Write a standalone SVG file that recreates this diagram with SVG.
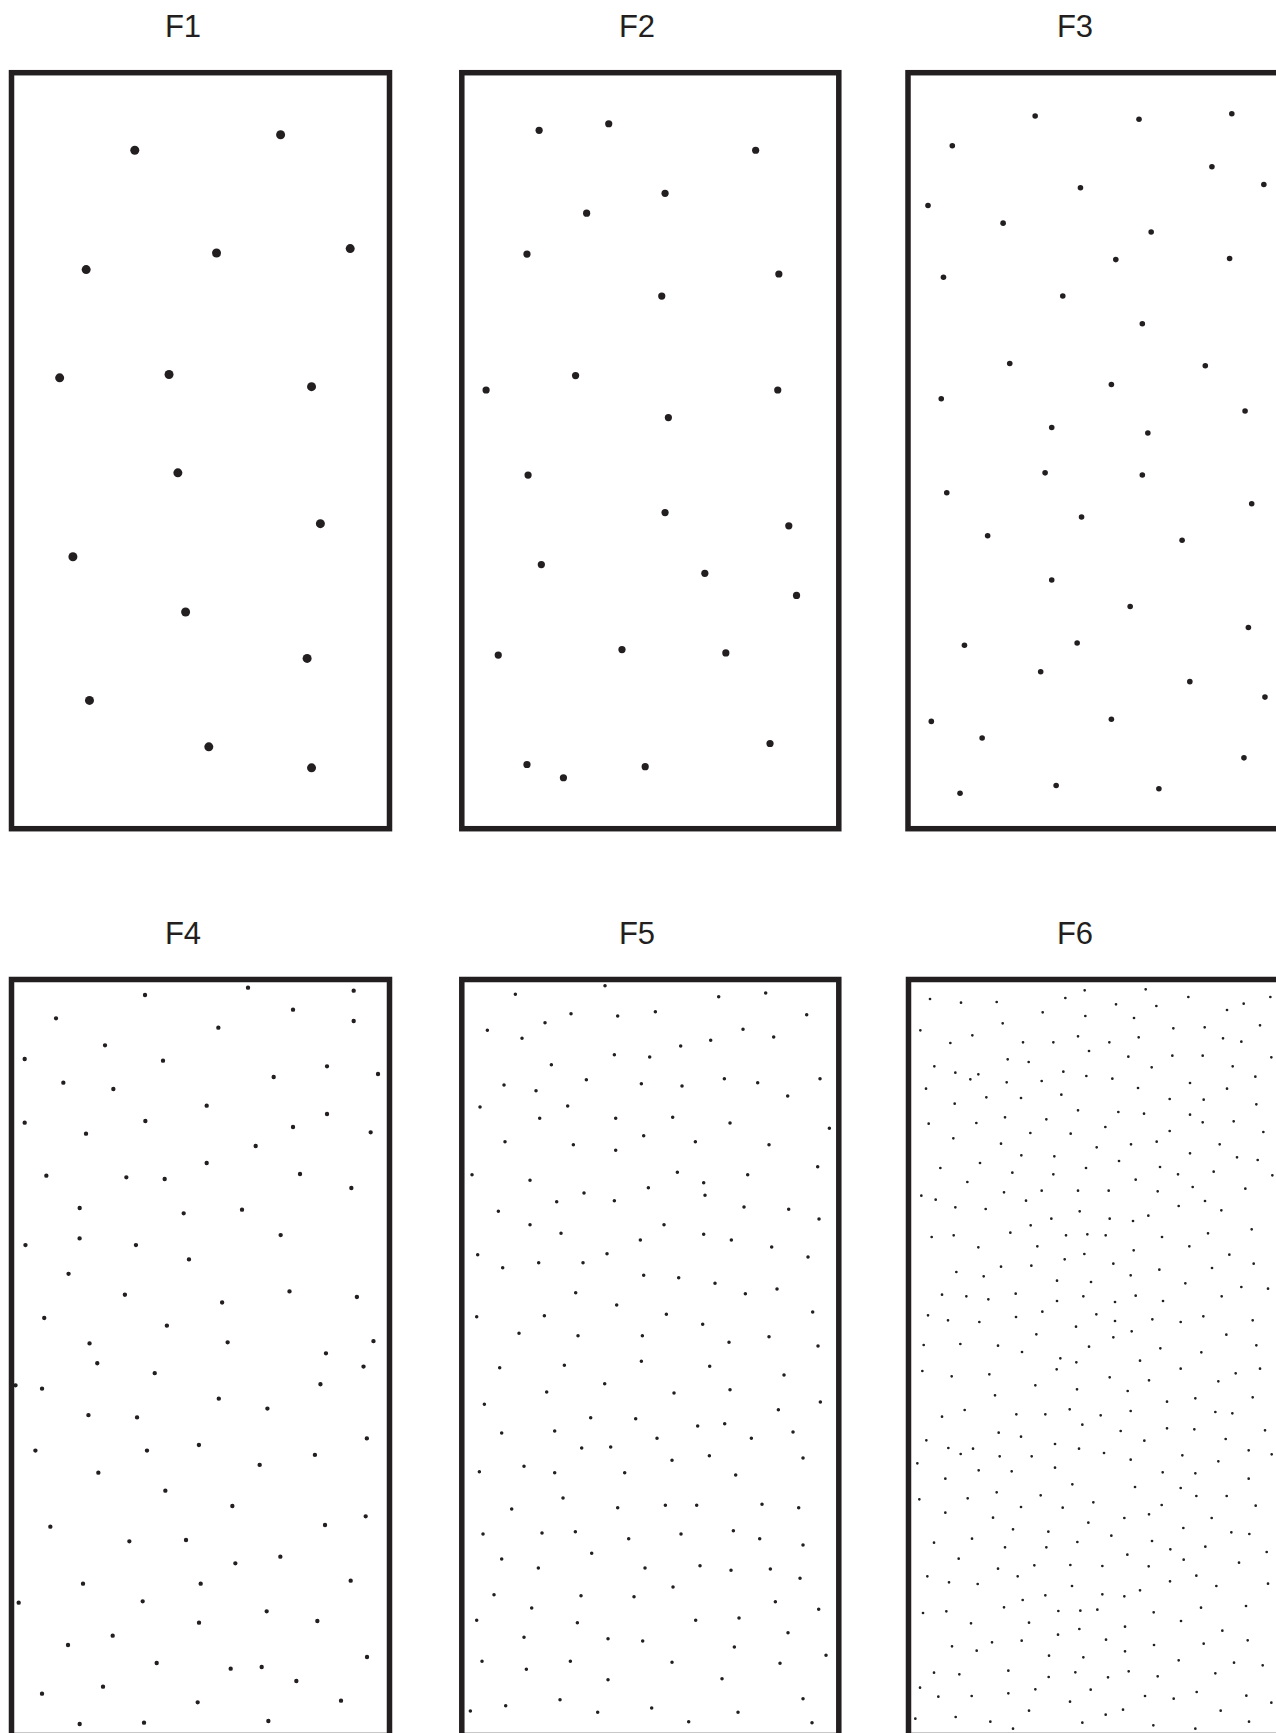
<svg xmlns="http://www.w3.org/2000/svg" width="1276" height="1733" viewBox="0 0 1276 1733">
<style>
.frame{fill:none;stroke:#231f20;stroke-width:5.5}
.lbl{font-family:"Liberation Sans",Arial,sans-serif;font-size:31px;fill:#231f20;text-anchor:middle}
.d{fill:#231f20}
.pd{fill:none;stroke:#231f20;stroke-linecap:round}
</style>
<rect width="1276" height="1733" fill="#ffffff"/>

<g id="F1">
<text class="lbl" x="183" y="37">F1</text>
<rect class="frame" x="11.5" y="72.7" width="378" height="756"/>
<g class="d" transform="scale(1.10476)">
<circle cx="122" cy="136" r="4.07"/><circle cx="254" cy="122" r="4.07"/><circle cx="78" cy="244" r="4.07"/><circle cx="196" cy="229" r="4.07"/><circle cx="317" cy="225" r="4.07"/><circle cx="54" cy="342" r="4.07"/><circle cx="153" cy="339" r="4.07"/><circle cx="282" cy="350" r="4.07"/><circle cx="161" cy="428" r="4.07"/><circle cx="290" cy="474" r="4.07"/><circle cx="66" cy="504" r="4.07"/><circle cx="168" cy="554" r="4.07"/><circle cx="278" cy="596" r="4.07"/><circle cx="81" cy="634" r="4.07"/><circle cx="189" cy="676" r="4.07"/><circle cx="282" cy="695" r="4.07"/>
</g>
</g>

<g id="F2">
<text class="lbl" x="637" y="37">F2</text>
<rect class="frame" x="461.8" y="72.7" width="377" height="756"/>
<g class="d" transform="scale(1.10476)">
<circle cx="488" cy="118" r="3.26"/><circle cx="551" cy="112" r="3.26"/><circle cx="684" cy="136" r="3.26"/><circle cx="602" cy="175" r="3.26"/><circle cx="531" cy="193" r="3.26"/><circle cx="477" cy="230" r="3.26"/><circle cx="705" cy="248" r="3.26"/><circle cx="599" cy="268" r="3.26"/><circle cx="440" cy="353" r="3.26"/><circle cx="521" cy="340" r="3.26"/><circle cx="704" cy="353" r="3.26"/><circle cx="605" cy="378" r="3.26"/><circle cx="478" cy="430" r="3.26"/><circle cx="602" cy="464" r="3.26"/><circle cx="714" cy="476" r="3.26"/><circle cx="490" cy="511" r="3.26"/><circle cx="638" cy="519" r="3.26"/><circle cx="721" cy="539" r="3.26"/><circle cx="451" cy="593" r="3.26"/><circle cx="563" cy="588" r="3.26"/><circle cx="657" cy="591" r="3.26"/><circle cx="477" cy="692" r="3.26"/><circle cx="510" cy="704" r="3.26"/><circle cx="584" cy="694" r="3.26"/><circle cx="697" cy="673" r="3.26"/>
</g>
</g>

<g id="F3">
<text class="lbl" x="1075" y="37">F3</text>
<rect class="frame" x="908" y="72.7" width="378" height="756"/>
<g class="d" transform="scale(1.10476)">
<circle cx="862" cy="132" r="2.53"/><circle cx="937" cy="105" r="2.53"/><circle cx="1031" cy="108" r="2.53"/><circle cx="1115" cy="103" r="2.53"/><circle cx="1097" cy="151" r="2.53"/><circle cx="1144" cy="167" r="2.53"/><circle cx="978" cy="170" r="2.53"/><circle cx="840" cy="186" r="2.53"/><circle cx="908" cy="202" r="2.53"/><circle cx="1042" cy="210" r="2.53"/><circle cx="1010" cy="235" r="2.53"/><circle cx="1113" cy="234" r="2.53"/><circle cx="854" cy="251" r="2.53"/><circle cx="962" cy="268" r="2.53"/><circle cx="1034" cy="293" r="2.53"/><circle cx="914" cy="329" r="2.53"/><circle cx="1091" cy="331" r="2.53"/><circle cx="1006" cy="348" r="2.53"/><circle cx="852" cy="361" r="2.53"/><circle cx="1127" cy="372" r="2.53"/><circle cx="952" cy="387" r="2.53"/><circle cx="1039" cy="392" r="2.53"/><circle cx="946" cy="428" r="2.53"/><circle cx="1034" cy="430" r="2.53"/><circle cx="857" cy="446" r="2.53"/><circle cx="1133" cy="456" r="2.53"/><circle cx="979" cy="468" r="2.53"/><circle cx="894" cy="485" r="2.53"/><circle cx="1070" cy="489" r="2.53"/><circle cx="952" cy="525" r="2.53"/><circle cx="1023" cy="549" r="2.53"/><circle cx="1130" cy="568" r="2.53"/><circle cx="873" cy="584" r="2.53"/><circle cx="975" cy="582" r="2.53"/><circle cx="942" cy="608" r="2.53"/><circle cx="1077" cy="617" r="2.53"/><circle cx="1145" cy="631" r="2.53"/><circle cx="843" cy="653" r="2.53"/><circle cx="1006" cy="651" r="2.53"/><circle cx="889" cy="668" r="2.53"/><circle cx="1126" cy="686" r="2.53"/><circle cx="956" cy="711" r="2.53"/><circle cx="1049" cy="714" r="2.53"/><circle cx="869" cy="718" r="2.53"/>
</g>
</g>

<g id="F4">
<text class="lbl" x="183" y="944">F4</text>
<rect class="frame" x="11.5" y="979.5" width="378" height="756"/>
<path class="pd" stroke-width="13" transform="translate(0 970) scale(0.333333)" d="M435 75h.1M744 53h.1M1061 62h.1M168 145h.1M879 119h.1M1061 153h.1M655 173h.1M315 226h.1M74 267h.1M489 272h.1M981 289h.1M1134 312h.1M190 338h.1M340 357h.1M821 321h.1M620 407h.1M981 432h.1M74 458h.1M436 453h.1M258 491h.1M879 471h.1M1112 487h.1M767 528h.1M620 579h.1M139 617h.1M379 622h.1M494 627h.1M900 612h.1M1054 654h.1M239 714h.1M551 730h.1M726 719h.1"/>
<path class="pd" stroke-width="3.9" transform="scale(1.10476)" d="M23 1127h.1M123 1127h.1M72 1121h.1M254 1118h.1M171 1140h.1M62 1153h.1M113 1172h.1M201 1179h.1M262 1169h.1M323 1174h.1M40 1193h.1M151 1200h.1M81 1216h.1M206 1215h.1M338 1214h.1M88 1234h.1M295 1225h.1M329 1237h.1M140 1243h.1M14 1254h.1M38 1257h.1M198 1266h.1M290 1253h.1M80 1281h.1M124 1283h.1M242 1275h.1M332 1302h.1M180 1308h.1M32 1313h.1M133 1313h.1M285 1317h.1M235 1326h.1"/>
<path class="pd" stroke-width="13" transform="translate(0 1470) scale(0.333333)" d="M295 8h.1M496 62h.1M697 108h.1M1097 139h.1M975 165h.1M151 170h.1M388 214h.1M558 210h.1M841 260h.1M706 280h.1M249 341h.1M602 341h.1M1052 332h.1M56 398h.1M428 394h.1M800 424h.1M952 453h.1M597 458h.1M338 497h.1M204 525h.1M1101 561h.1M470 579h.1M692 596h.1M785 591h.1M889 633h.1M126 671h.1M309 650h.1M593 697h.1M1023 692h.1M239 762h.1M432 758h.1M805 753h.1"/>
</g>

<g id="F5">
<text class="lbl" x="637" y="944">F5</text>
<rect class="frame" x="461.8" y="979.5" width="377" height="756"/>
<path class="pd" stroke-width="10.5" transform="translate(455 970) scale(0.333333)" d="M181 73h.1M450 47h.1M791 80h.1M932 69h.1M348 131h.1M488 138h.1M601 125h.1M1055 134h.1M270 158h.1M97 181h.1M201 205h.1M864 178h.1M956 201h.1M767 211h.1M677 228h.1M478 254h.1M584 261h.1M289 284h.1M147 345h.1M243 362h.1M394 329h.1M559 341h.1M681 348h.1M808 326h.1M908 338h.1M1095 326h.1M998 378h.1M75 411h.1M338 408h.1M254 445h.1M482 445h.1M653 442h.1M825 459h.1M1123 475h.1M150 515h.1M355 524h.1M482 541h.1M566 497h.1M721 515h.1M942 524h.1M51 614h.1M225 631h.1M667 607h.1M746 638h.1M878 614h.1M1088 590h.1M580 653h.1M387 669h.1M305 695h.1M478 692h.1M750 676h.1M867 711h.1M1001 718h.1M130 724h.1M1092 747h.1"/>
<path class="pd" stroke-width="10.5" transform="translate(455 1220) scale(0.333333)" d="M225 14h.1M627 14h.1M318 40h.1M556 60h.1M746 43h.1M829 60h.1M950 81h.1M1059 111h.1M68 104h.1M143 143h.1M251 128h.1M384 128h.1M456 101h.1M566 166h.1M671 173h.1M780 190h.1M871 221h.1M966 207h.1M362 218h.1M485 255h.1M65 290h.1M268 287h.1M634 283h.1M743 313h.1M1073 276h.1M192 340h.1M369 347h.1M562 347h.1M822 367h.1M942 350h.1M1089 378h.1M134 443h.1M328 436h.1M559 424h.1M764 439h.1M987 465h.1M449 491h.1M275 516h.1M657 519h.1M825 509h.1M88 553h.1M970 569h.1M1096 546h.1M407 593h.1M542 596h.1M728 618h.1M809 611h.1M140 639h.1M299 633h.1M1014 636h.1M606 655h.1M889 655h.1M380 684h.1M467 681h.1M651 721h.1M763 707h.1M1044 714h.1M207 739h.1"/>
<path class="pd" stroke-width="10.5" transform="translate(455 1470) scale(0.333333)" d="M73 5h.1M299 8h.1M509 8h.1M842 15h.1M324 84h.1M170 117h.1M488 113h.1M631 106h.1M725 106h.1M921 103h.1M1031 113h.1M84 192h.1M261 189h.1M361 185h.1M521 206h.1M678 192h.1M835 182h.1M914 206h.1M1044 225h.1M410 250h.1M140 267h.1M250 294h.1M570 294h.1M735 287h.1M828 301h.1M946 297h.1M1035 325h.1M654 351h.1M117 374h.1M378 377h.1M537 380h.1M230 414h.1M961 395h.1M1091 418h.1M65 451h.1M367 458h.1M722 451h.1M852 444h.1M999 488h.1M207 502h.1M459 506h.1M563 513h.1M838 531h.1M1113 556h.1M81 574h.1M346 574h.1M651 577h.1M975 580h.1M214 598h.1M459 629h.1M801 626h.1M315 689h.1M1044 686h.1M46 723h.1M152 707h.1M428 727h.1M590 714h.1M849 727h.1M701 755h.1M1071 758h.1"/>
</g>

<g id="F6">
<text class="lbl" x="1075" y="944">F6</text>
<rect class="frame" x="908.5" y="979.5" width="378" height="756"/>
<path class="pd" stroke-width="8" transform="translate(906 970) scale(0.333333)" d="M72 87h.1M165 98h.1M272 96h.1M410 127h.1M478 84h.1M536 61h.1M630 103h.1M719 58h.1M751 108h.1M847 81h.1M963 120h.1M1013 101h.1M1093 81h.1M43 181h.1M290 160h.1M538 138h.1M684 144h.1M802 175h.1M896 172h.1M1062 166h.1M133 219h.1M199 196h.1M351 217h.1M442 217h.1M516 199h.1M610 217h.1M698 202h.1M951 205h.1M1006 215h.1M305 268h.1M368 276h.1M549 243h.1M667 260h.1M799 257h.1M890 257h.1M1096 262h.1M980 289h.1M85 289h.1M148 308h.1M193 328h.1M217 313h.1M302 337h.1M407 333h.1M472 305h.1M541 318h.1M619 326h.1M737 292h.1M852 339h.1M1048 320h.1M60 356h.1M241 382h.1M345 384h.1M466 374h.1M696 354h.1M791 387h.1M893 389h.1M963 356h.1M146 401h.1M516 421h.1M637 426h.1M714 431h.1M852 434h.1M1051 403h.1M68 461h.1M211 459h.1M297 442h.1M421 448h.1M598 471h.1M890 457h.1M983 454h.1M142 505h.1M373 489h.1M494 491h.1M791 483h.1M1072 486h.1M285 521h.1M572 532h.1M675 523h.1M752 515h.1M941 523h.1M346 556h.1M445 559h.1M852 550h.1M993 562h.1M1055 570h.1M103 594h.1M222 579h.1M540 594h.1M639 573h.1M762 591h.1M319 608h.1M442 613h.1M816 613h.1M923 605h.1M1099 616h.1M184 636h.1M689 629h.1M860 651h.1M1018 656h.1M46 677h.1M89 689h.1M294 667h.1M407 662h.1M516 662h.1M608 662h.1M755 664h.1M897 693h.1M148 712h.1M239 717h.1M360 692h.1M521 724h.1M818 708h.1M946 721h.1M436 746h.1M611 746h.1M727 737h.1"/>
<path class="pd" stroke-width="8" transform="translate(906 1220) scale(0.333333)" d="M374 16h.1M681 3h.1M1037 28h.1M77 51h.1M143 46h.1M313 38h.1M480 46h.1M544 43h.1M599 46h.1M768 51h.1M906 40h.1M217 82h.1M394 79h.1M535 102h.1M683 91h.1M850 79h.1M970 104h.1M476 118h.1M285 140h.1M376 137h.1M622 131h.1M760 149h.1M918 144h.1M1043 131h.1M151 156h.1M233 169h.1M453 182h.1M555 186h.1M674 166h.1M838 190h.1M108 224h.1M181 229h.1M247 238h.1M329 221h.1M453 243h.1M532 229h.1M627 246h.1M689 227h.1M771 243h.1M947 229h.1M1006 201h.1M1086 206h.1M66 286h.1M126 301h.1M220 306h.1M330 291h.1M409 275h.1M571 283h.1M627 303h.1M739 298h.1M824 306h.1M892 289h.1M1040 301h.1M510 320h.1M391 343h.1M622 352h.1M677 334h.1M961 344h.1M53 375h.1M163 372h.1M276 377h.1M348 396h.1M549 380h.1M763 385h.1M886 397h.1M1051 376h.1M463 415h.1M511 427h.1M702 422h.1M49 453h.1M137 469h.1M250 463h.1M452 448h.1M611 472h.1M729 481h.1M824 446h.1M937 484h.1M989 460h.1M1062 446h.1M388 496h.1M513 508h.1M665 513h.1M267 526h.1M783 545h.1M868 535h.1M1040 532h.1M108 590h.1M176 570h.1M331 583h.1M418 583h.1M491 568h.1M584 586h.1M674 573h.1M928 576h.1M979 580h.1M529 614h.1M278 638h.1M345 650h.1M644 633h.1M783 625h.1M865 628h.1M1077 631h.1M61 661h.1M127 684h.1M164 702h.1M201 686h.1M281 709h.1M377 709h.1M447 672h.1M519 686h.1M594 699h.1M715 662h.1M829 706h.1M959 657h.1M1028 691h.1M1097 703h.1M34 730h.1M218 751h.1M317 754h.1M447 743h.1M674 719h.1M937 724h.1M118 776h.1M770 757h.1M868 760h.1M1028 776h.1"/>
<path class="pd" stroke-width="8" transform="translate(880 1480) scale(0.333333)" d="M577 13h.1M765 21h.1M902 24h.1M949 48h.1M1040 48h.1M118 58h.1M263 55h.1M350 37h.1M482 46h.1M640 67h.1M423 81h.1M548 83h.1M845 75h.1M1127 77h.1M196 98h.1M339 113h.1M733 114h.1M807 103h.1M995 114h.1M399 148h.1M505 155h.1M625 128h.1M694 167h.1M910 144h.1M1054 157h.1M1108 162h.1M162 188h.1M276 176h.1M375 202h.1M499 202h.1M592 186h.1M816 183h.1M871 208h.1M976 200h.1M1160 216h.1M236 236h.1M742 224h.1M911 239h.1M1077 248h.1M354 266h.1M463 256h.1M571 255h.1M667 258h.1M806 259h.1M142 289h.1M207 307h.1M293 312h.1M413 289h.1M576 318h.1M870 304h.1M949 287h.1M1009 318h.1M1164 311h.1M428 360h.1M496 346h.1M667 343h.1M733 349h.1M780 331h.1M129 399h.1M199 394h.1M372 382h.1M535 393h.1M601 392h.1M652 389h.1M821 397h.1M963 383h.1M1098 378h.1M273 430h.1M447 428h.1M598 447h.1M735 440h.1M903 423h.1M1027 452h.1M534 464h.1M216 499h.1M290 512h.1M336 487h.1M425 482h.1M678 479h.1M822 495h.1M971 491h.1M1103 481h.1M507 527h.1M610 532h.1M735 514h.1M896 541h.1M1062 548h.1M1148 556h.1M162 578h.1M238 583h.1M385 572h.1M506 591h.1M586 577h.1M684 592h.1M746 574h.1M833 589h.1M1006 580h.1M120 623h.1M175 650h.1M275 648h.1M385 640h.1M466 628h.1M632 629h.1M570 665h.1M795 648h.1M881 656h.1M950 636h.1M1099 647h.1M1174 668h.1M447 692h.1M677 704h.1M729 689h.1M1022 692h.1M106 716h.1M227 711h.1M331 725h.1M399 746h.1M607 728h.1M820 736h.1M946 746h.1M1107 725h.1"/>
</g>
</svg>
